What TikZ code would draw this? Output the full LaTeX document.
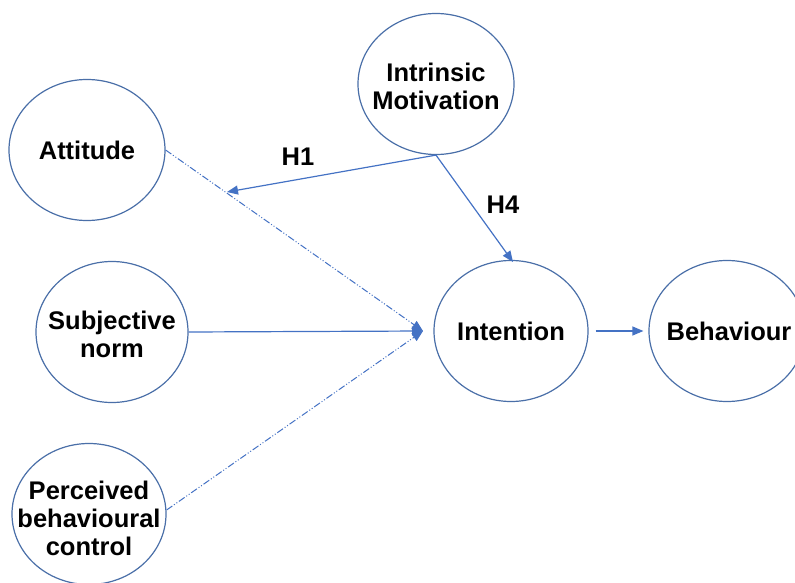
\documentclass[tikz,border=0pt]{standalone}
\usepackage{fontspec}
\setmainfont{Liberation Sans}
\usetikzlibrary{arrows.meta,shapes.geometric}
\definecolor{ringblue}{HTML}{4A6FA8}
\definecolor{linkblue}{HTML}{4472C4}
\tikzset{
  labtext/.style={font=\fontsize{25.5}{28}\selectfont\bfseries, align=center,
    inner sep=0pt, text=black},
  construct/.style={ellipse, draw=ringblue, line width=1.2pt, fill=white,
    minimum width=#1, minimum height=141pt, inner sep=0pt},
  construct/.default=155pt,
  link/.style={draw=linkblue, line width=1.2pt,
    -{Triangle[length=11pt,width=9pt]}},
  dashlink/.style={link, line width=1pt,
    dash pattern=on 7pt off 2pt on 1pt off 2pt on 1pt off 2pt},
  hlabel/.style={font=\fontsize{25.5}{28}\selectfont\bfseries}
}
\begin{document}
\begin{tikzpicture}[x=1pt,y=-1pt]
\useasboundingbox (0,0) rectangle (795,583);
\clip (0,0) rectangle (795,583);

% constructs: fixed-size rings, text set as centred labels
\node[construct=156pt, label={[labtext]center:Attitude}] (att) at (87,150) {};
\node[construct=156pt, label={[labtext, yshift=-2pt]center:Intrinsic\\Motivation}] (im) at (436,84) {};
\node[construct=152pt, label={[labtext, yshift=-2pt]center:Subjective\\norm}] (sn) at (112,332) {};
\node[construct=154pt, label={[labtext, yshift=-4pt]center:Perceived\\behavioural\\control}] (pbc) at (89,514) {};
\node[construct=154pt, label={[labtext]center:Intention}] (int) at (511,331) {};
\node[construct=156pt, label={[labtext, xshift=2pt]center:Behaviour}] (beh) at (727,331) {};

% meeting point of the three antecedents and free arrow ends
\coordinate (meet) at (423,331);
\coordinate (h1end) at (227,192);
\coordinate (h4end) at (513,262);

% links
\draw[dashlink] (att.east) -- (meet);
\draw[link] (sn.east) -- (meet);
\draw[dashlink] ([yshift=4pt]pbc.east) -- (meet);
\draw[link] (im.south) -- (h1end);
\draw[link] (im.south) -- (h4end);
\draw[link, shorten <=7pt, shorten >=5pt] (int.east) -- (beh.west);

% hypothesis labels
\node[hlabel] (h1) at (298,157) {H1};
\node[hlabel] (h4) at (503,205) {H4};
\end{tikzpicture}
\end{document}
